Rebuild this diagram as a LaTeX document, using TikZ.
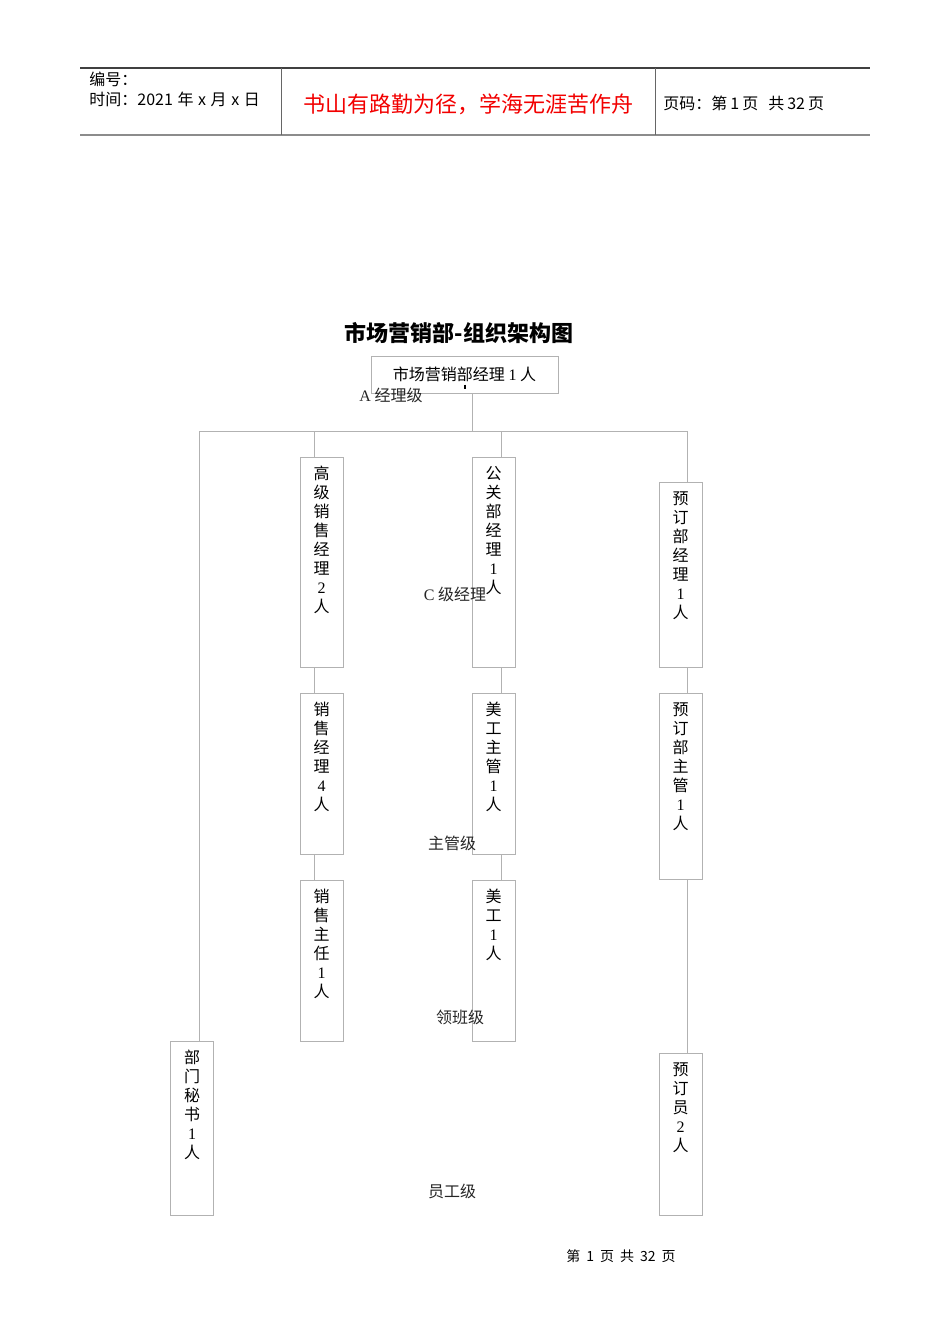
\documentclass[tikz,border=0pt]{standalone}
\usepackage{fontspec}
\setmainfont{Liberation Serif}
\newfontfamily\cjk{Noto Sans CJK SC}
\tikzset{
  post/.style={draw=black!30, line width=0.5pt, minimum width=21.5pt, inner sep=0pt, anchor=north},
  vtext/.style={font=\cjk\fontsize{8}{9.5}\selectfont, align=center, anchor=north, inner sep=4.5pt},
  link/.style={draw=black!30, line width=0.5pt},
  level/.style={font=\cjk\fontsize{8}{10}\selectfont, text=black!85, inner sep=0pt},
  hdr/.style={font=\cjk\fontsize{8}{9}\selectfont, anchor=west, inner sep=0pt},
}
\begin{document}
\begin{tikzpicture}[x=0.5pt, y=-0.5pt]
\useasboundingbox (0,0) rectangle (950,1344);
% header
\draw[black!75, line width=0.6pt] (80,68) -- (870,68);
\draw[black!45, line width=1pt] (80,135) -- (870,135);
\draw[black!60, line width=0.5pt] (281,68) -- (281,135) (655,68) -- (655,135);
\node[hdr] (hno) at (89,79) {编号：};
\node[hdr] (htime) at (89,99) {时间：2021\hspace{2.3pt}年\hspace{2.3pt}x\hspace{2.3pt}月\hspace{2.3pt}x\hspace{2.3pt}日};
\node[font=\cjk\fontsize{11}{13}\selectfont, text=red!95!black, inner sep=0pt] (motto) at (468,104) {书山有路勤为径，学海无涯苦作舟};
\node[hdr] (hpage) at (663,103) {页码：第\hspace{1.5pt}1\hspace{1.5pt}页\hspace{5pt}共\hspace{1.5pt}32\hspace{1.5pt}页};
% title
\node[font=\cjk\bfseries\fontsize{11}{13}\selectfont, inner sep=0pt] (title) at (459,333) {市场营销部-组织架构图};
% boxes
\node[draw=black!30, line width=0.5pt, minimum width=93.5pt, minimum height=18.5pt, font=\cjk\fontsize{8}{10}\selectfont] (mgr) at (464.5,374.5) {市场营销部经理 \textrm{1} 人};
\draw[line width=0.6pt] (465,384.5) -- (465,388.5);

\node[post, minimum height=105pt, label={[vtext]north:{高\\级\\销\\售\\经\\理\\\textrm{2}\\人}}] (gjxs) at (321.5,457) {};
\node[post, minimum height=80.5pt, label={[vtext]north:{销\\售\\经\\理\\\textrm{4}\\人}}] (xsjl) at (321.5,693) {};
\node[post, minimum height=80.5pt, label={[vtext]north:{销\\售\\主\\任\\\textrm{1}\\人}}] (xszr) at (321.5,880) {};

\node[post, minimum height=105pt, label={[vtext]north:{公\\关\\部\\经\\理\\\textrm{1}\\人}}] (ggjl) at (493.5,457) {};
\node[post, minimum height=80.5pt, label={[vtext]north:{美\\工\\主\\管\\\textrm{1}\\人}}] (mgzg) at (493.5,693) {};
\node[post, minimum height=80.5pt, label={[vtext]north:{美\\工\\\textrm{1}\\人}}] (mg) at (493.5,880) {};

\node[post, minimum height=92.5pt, label={[vtext]north:{预\\订\\部\\经\\理\\\textrm{1}\\人}}] (ydjl) at (680.5,482) {};
\node[post, minimum height=93pt, label={[vtext]north:{预\\订\\部\\主\\管\\\textrm{1}\\人}}] (ydzg) at (680.5,693) {};
\node[post, minimum height=81pt, label={[vtext]north:{预\\订\\员\\\textrm{2}\\人}}] (ydy) at (680.5,1053) {};

\node[post, minimum height=87pt, label={[vtext]north:{部\\门\\秘\\书\\\textrm{1}\\人}}] (bmms) at (192,1041) {};

% connectors
\coordinate (busL) at (199,431);
\coordinate (busR) at (687,431);
\coordinate (c0) at (472,431);
\coordinate (c1) at (314,431);
\coordinate (c2) at (501,431);
\draw[link] (busL) -- (busR);
\draw[link] (mgr.south -| c0) -- (c0);
\draw[link] (busL) -- (bmms.north -| busL);
\draw[link] (c1) -- (gjxs.north -| c1) (gjxs.south -| c1) -- (xsjl.north -| c1) (xsjl.south -| c1) -- (xszr.north -| c1);
\draw[link] (c2) -- (ggjl.north -| c2) (ggjl.south -| c2) -- (mgzg.north -| c2) (mgzg.south -| c2) -- (mg.north -| c2);
\draw[link] (busR) -- (ydjl.north -| busR) (ydjl.south -| busR) -- (ydzg.north -| busR) (ydzg.south -| busR) -- (ydy.north -| busR);

% levels
\node[level, anchor=west] (lva) at (359,395) {\textrm{A} 经理级};
\node[level] (lvc) at (455,594) {\textrm{C} 级经理};
\node[level] (lvz) at (452,843) {主管级};
\node[level] (lvl) at (460,1017) {领班级};
\node[level] (lvy) at (452,1191) {员工级};

% footer
\node[font=\cjk\fontsize{7}{9}\selectfont, inner sep=0pt] (foot) at (621,1256) {第\hspace{3pt}1\hspace{3pt}页\hspace{3pt}共\hspace{3pt}32\hspace{3pt}页};
\end{tikzpicture}
\end{document}
